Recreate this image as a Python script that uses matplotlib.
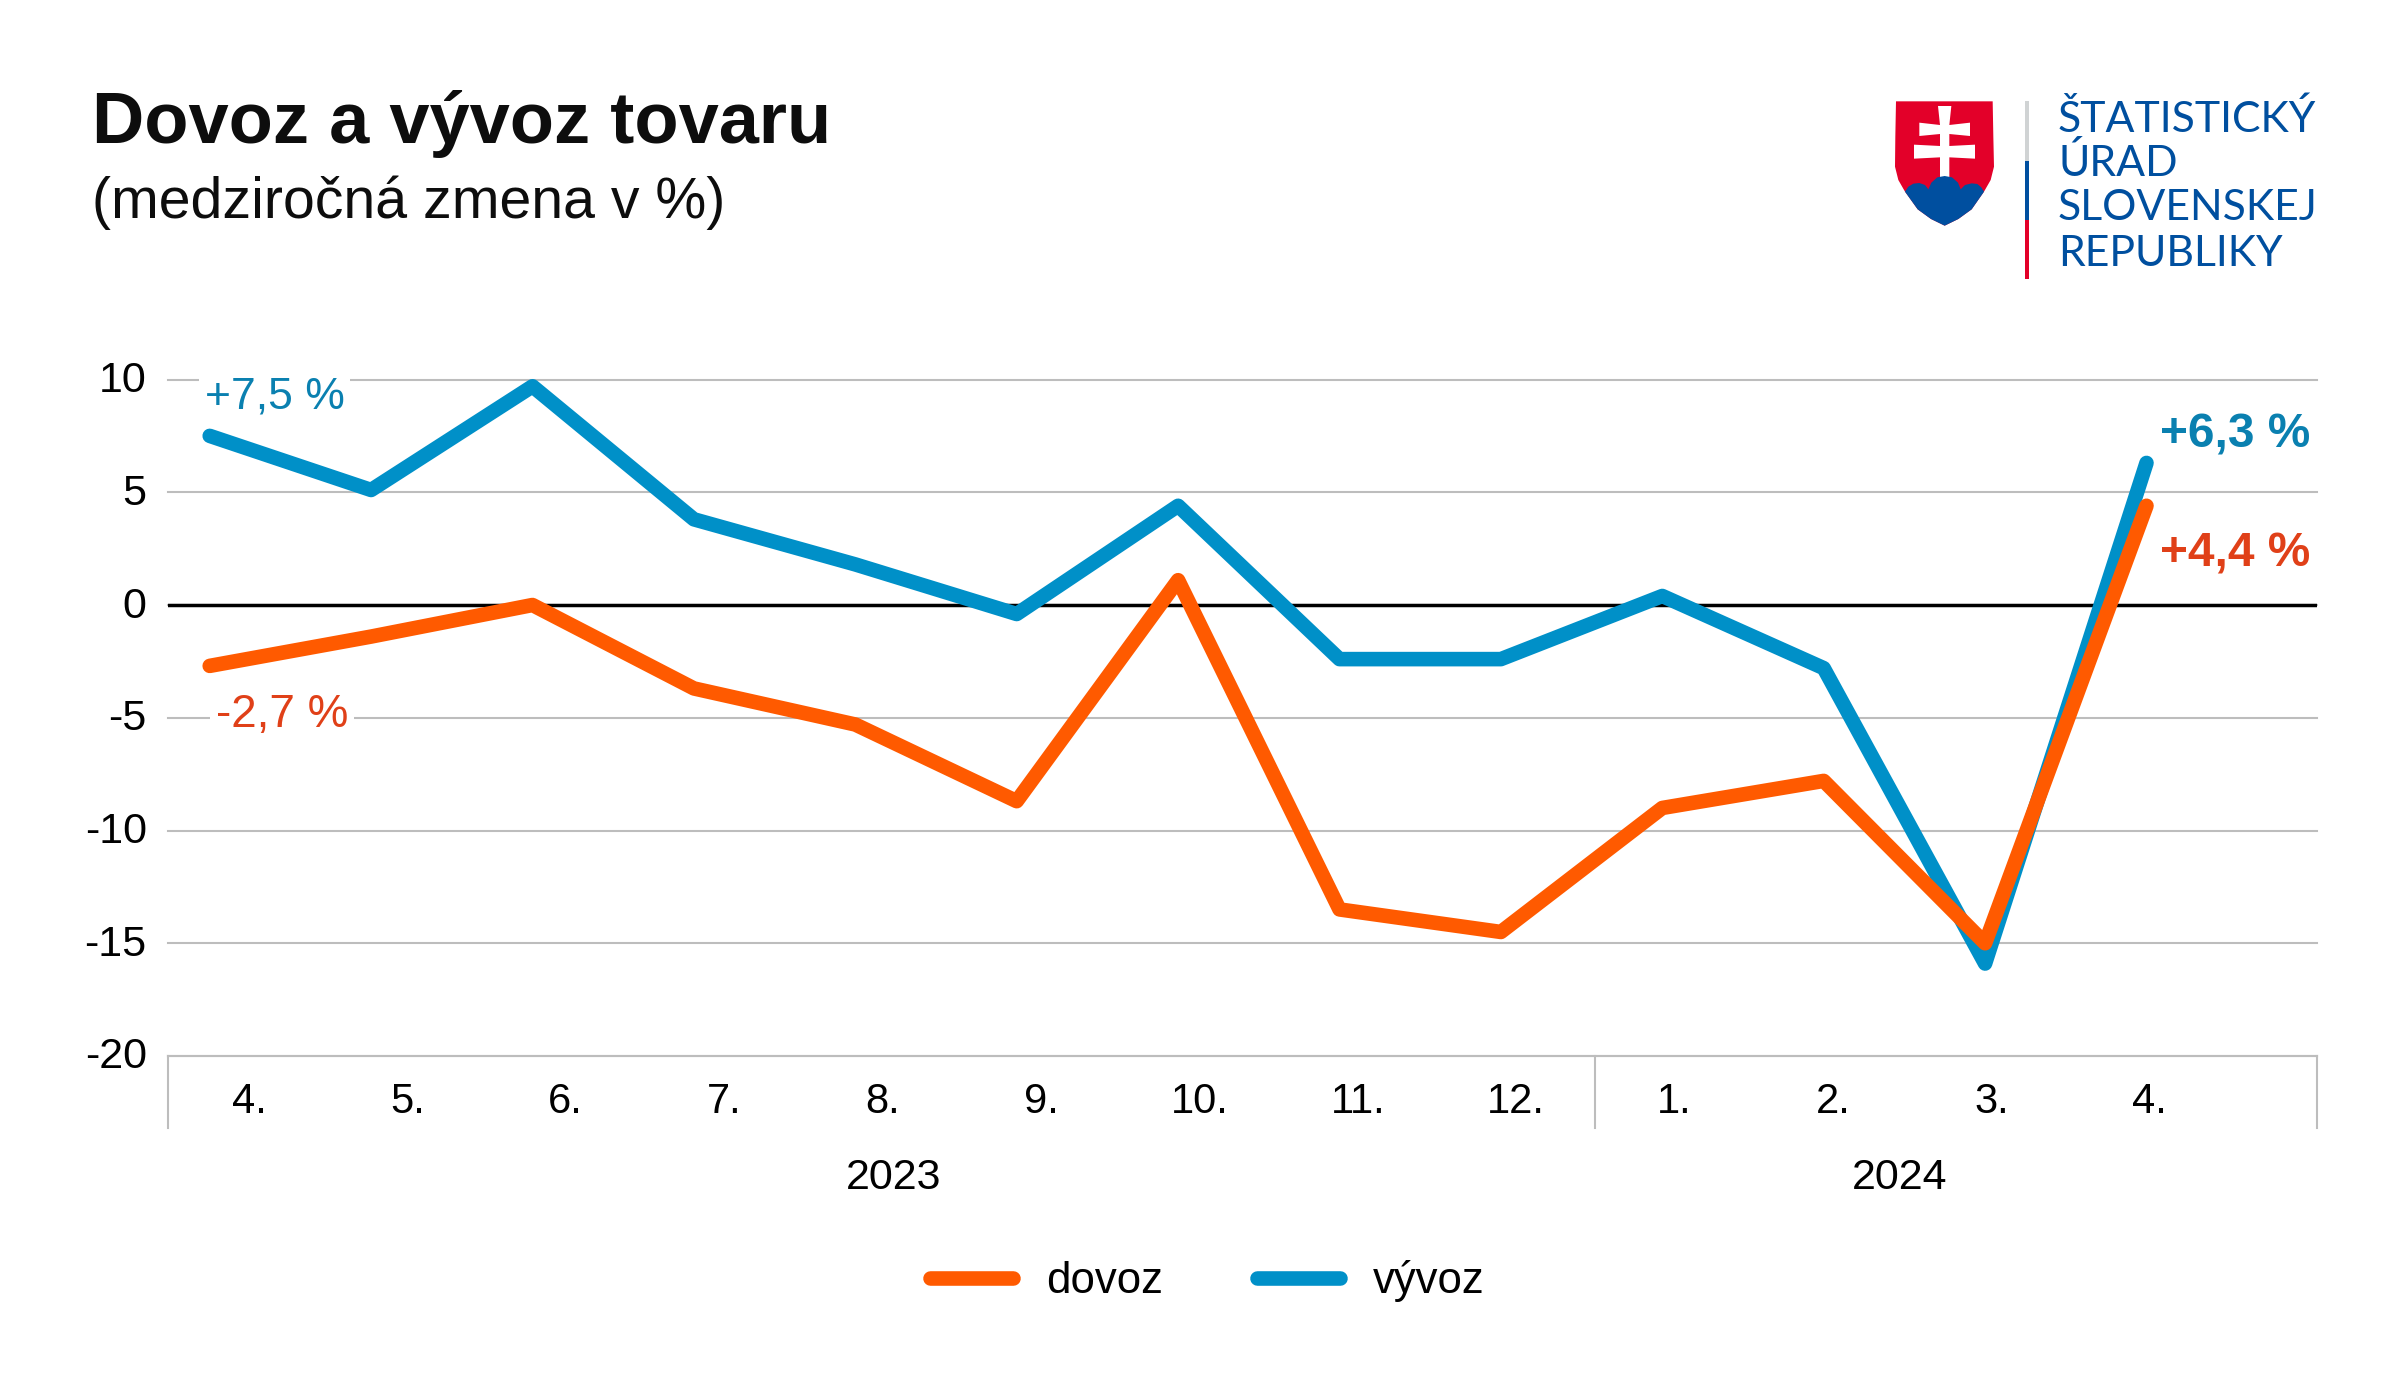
#!/usr/bin/env python3

import numpy as np
import matplotlib
matplotlib.use("Agg")
import matplotlib.pyplot as plt
from matplotlib.patches import Polygon, Rectangle
from matplotlib.transforms import ScaledTranslation

months = ["4.", "5.", "6.", "7.", "8.", "9.", "10.", "11.", "12.", "1.", "2.", "3.", "4."]
yticks = [-20, -15, -10, -5, 0, 5, 10]
dovoz = [-2.7, -1.4, 0.0, -3.7, -5.3, -8.7, 1.1, -13.5, -14.5, -9.0, -7.8, -15.0, 4.4]
vyvoz = [7.5, 5.1, 9.7, 3.8, 1.8, -0.4, 4.4, -2.4, -2.4, 0.4, -2.8, -15.9, 6.3]

W, H = 2408, 1387
ORANGE = "#FF5A00"
BLUE = "#0090C8"
TXT_BLUE = "#0A80B0"
TXT_RED = "#E04018"
GRID = "#BDBDBD"
LOGO_BLUE = "#004F9F"
LOGO_RED = "#E30029"


def zoom_pts(pts):
    # logo outline was read at 3x from a crop starting at 1860,70
    return [(1860 + x / 3, 70 + y / 3) for x, y in pts]


def draw_logo(ov):
    shield = [(108, 94), (398, 94), (400, 200), (402, 290), (392, 330), (372, 365), (335, 418),
              (295, 447), (254, 467), (213, 447), (173, 418), (135, 365), (115, 330), (105, 290), (106, 200)]
    hills = [(135, 365), (145, 350), (160, 341), (178, 339), (195, 345), (205, 358), (214, 338),
             (232, 322), (254, 318), (276, 322), (294, 338), (302, 358), (315, 345), (335, 340),
             (352, 342), (364, 352), (372, 365), (335, 418), (295, 447), (254, 467), (213, 447), (173, 418)]
    cross = [(234, 108), (274, 108), (268, 165), (330, 158), (330, 198), (268, 192), (268, 228),
             (345, 224), (345, 266), (268, 262), (268, 325), (240, 325), (240, 262), (162, 266),
             (162, 224), (240, 228), (240, 192), (178, 198), (178, 158), (240, 165)]
    ov.add_patch(Polygon(zoom_pts(shield), closed=True, fc=LOGO_RED, ec="none"))
    ov.add_patch(Polygon(zoom_pts(cross), closed=True, fc="white", ec="none"))
    ov.add_patch(Polygon(zoom_pts(hills), closed=True, fc=LOGO_BLUE, ec="none"))

    ov.add_patch(Rectangle((2024.5, 101), 4.5, 60, fc="#D0D3D4", ec="none"))
    ov.add_patch(Rectangle((2024.5, 161), 4.5, 59, fc=LOGO_BLUE, ec="none"))
    ov.add_patch(Rectangle((2024.5, 220), 4.5, 59, fc=LOGO_RED, ec="none"))

    lines = ["ŠTATISTICKÝ", "ÚRAD", "SLOVENSKEJ", "REPUBLIKY"]
    bases = [132.5, 176.5, 220.5, 265.5]
    for s, b in zip(lines, bases):
        ov.text(2058, b, s, family="Lato", fontsize=30.8, color=LOGO_BLUE, va="baseline", ha="left")


def main():
    plt.rcParams["font.family"] = ["Liberation Sans", "DejaVu Sans"]
    fig = plt.figure(figsize=(W / 100, H / 100), dpi=100, facecolor="white")

    # overlay in pixel coordinates for the header and logo
    ov = fig.add_axes([0, 0, 1, 1])
    ov.set_xlim(0, W)
    ov.set_ylim(H, 0)
    ov.axis("off")

    ov.text(92, 143, "Dovoz a vývoz tovaru", fontsize=52, fontweight="bold", color="#0D0D0D", va="baseline")
    ov.text(92, 218, "(medziročná zmena v %)", fontsize=41.2, color="#0D0D0D", va="baseline")
    draw_logo(ov)

    left, right, top, bottom = 167.5, 2317, 379.5, 1056
    ax = fig.add_axes([left / W, 1 - bottom / H, (right - left) / W, (bottom - top) / H])
    ax.patch.set_alpha(0)
    step = 161.4
    x0 = 209.7
    ax.set_xlim((left - x0) / step, (right - x0) / step)
    ax.set_ylim(-20, 10)

    for s in ["top", "left", "right"]:
        ax.spines[s].set_visible(False)
    ax.spines["bottom"].set_color(GRID)
    ax.spines["bottom"].set_linewidth(1.5)

    ax.set_yticks(yticks)
    ax.set_yticklabels([str(v) for v in yticks], fontsize=31)
    ax.tick_params(axis="y", length=0, pad=15)
    up = ScaledTranslation(0, 3 / 100, fig.dpi_scale_trans)
    for lab in ax.get_yticklabels():
        lab.set_transform(lab.get_transform() + up)
    ax.yaxis.grid(True, color=GRID, lw=1.5)
    for gl in ax.get_ygridlines():
        gl.set_clip_on(False)
    ax.set_axisbelow(True)
    ax.axhline(0, color="black", lw=2.5, zorder=1.5)

    # month labels sit on a slightly tighter pitch than the points
    ax.set_xticks(0.243 + np.arange(len(months)) * 158.4 / step)
    ax.set_xticklabels(months, fontsize=30)
    ax.tick_params(axis="x", length=0, pad=19)

    x = np.arange(len(months))
    ax.plot(x, vyvoz, color=BLUE, lw=10.5, solid_capstyle="round", solid_joinstyle="round",
            clip_on=False, zorder=3, label="vývoz")
    ax.plot(x, dovoz, color=ORANGE, lw=10.5, solid_capstyle="round", solid_joinstyle="round",
            clip_on=False, zorder=4, label="dovoz")

    # separators under the axis
    tr = ax.get_xaxis_transform()
    for frac in [0.0, (1595 - left) / (right - left), 1.0]:
        ax.plot([frac, frac], [0, -72 / (bottom - top)], color=GRID, lw=1.5,
                transform=ax.transAxes, clip_on=False)
    ax.text(4.237, -0.18, "2023", transform=tr, fontsize=31, ha="center", va="center")
    ax.text(10.47, -0.18, "2024", transform=tr, fontsize=31, ha="center", va="center")

    white = dict(fc="white", ec="none", pad=4)
    ax.annotate("+7,5 %", xy=(0, vyvoz[0]), xytext=(-5, 27), textcoords="offset pixels",
                fontsize=32, color=TXT_BLUE, va="baseline", bbox=white, zorder=5)
    ax.annotate("-2,7 %", xy=(0, dovoz[0]), xytext=(6, -61), textcoords="offset pixels",
                fontsize=33, color=TXT_RED, va="baseline", bbox=white, zorder=5)
    ax.annotate("+6,3 %", xy=(12, vyvoz[12]), xytext=(13, 15), textcoords="offset pixels",
                fontsize=34.4, fontweight="bold", color=TXT_BLUE, va="baseline", zorder=5)
    ax.annotate("+4,4 %", xy=(12, dovoz[12]), xytext=(13, -61), textcoords="offset pixels",
                fontsize=34.4, fontweight="bold", color=TXT_RED, va="baseline", zorder=5)

    handles, labels = ax.get_legend_handles_labels()
    fig.legend(handles[::-1], labels[::-1], ncol=2, frameon=False, fontsize=31.5,
               loc="center", bbox_to_anchor=(1207 / W, 1 - 1281 / H),
               handlelength=1.9, handletextpad=0.75, columnspacing=2.15)

    fig.savefig("out.png", dpi=100)


if __name__ == "__main__":
    main()
